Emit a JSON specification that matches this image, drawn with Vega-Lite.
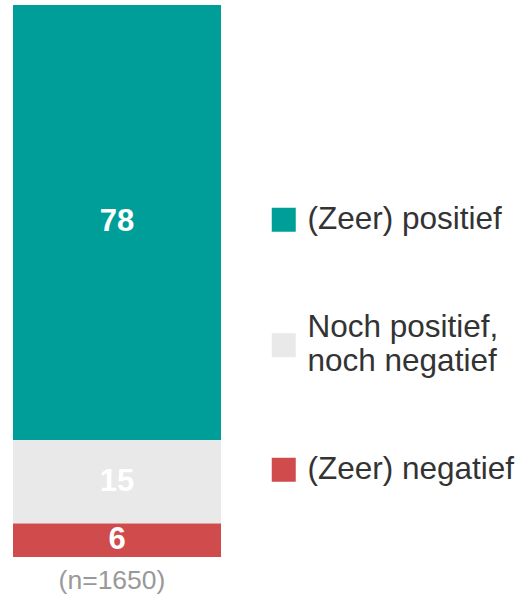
{
  "$schema": "https://vega.github.io/schema/vega-lite/v6.json",
  "width": 208,
  "height": 552,
  "autosize": {"type": "none"},
  "padding": {"left": 13, "top": 5, "right": 301, "bottom": 37},
  "background": "white",
  "config": {
    "view": {"stroke": null},
    "font": "Liberation Sans"
  },
  "data": {
    "values": [
      {"n": "(n=1650)", "categorie": "(Zeer) positief", "waarde": 78, "volgorde": 3},
      {"n": "(n=1650)", "categorie": "Noch positief, noch negatief", "waarde": 15, "volgorde": 2},
      {"n": "(n=1650)", "categorie": "(Zeer) negatief", "waarde": 6, "volgorde": 1}
    ]
  },
  "transform": [
    {"stack": "waarde", "groupby": ["n"], "sort": [{"field": "volgorde", "order": "ascending"}], "as": ["y0", "y1"]},
    {"calculate": "(datum.y0 + datum.y1) / 2", "as": "ymid"}
  ],
  "encoding": {
    "x": {
      "field": "n",
      "type": "nominal",
      "scale": {"paddingInner": 0, "paddingOuter": 0},
      "axis": {
        "title": null,
        "domain": false,
        "ticks": false,
        "labelAngle": 0,
        "labelFontSize": 26.5,
        "labelColor": "#999999",
        "labelPadding": 10,
        "labelOffset": -5,
        "labelFont": "Liberation Sans"
      }
    }
  },
  "layer": [
    {
      "mark": {"type": "bar"},
      "encoding": {
        "y": {"field": "y0", "type": "quantitative", "scale": {"domain": [0, 99], "nice": false, "zero": true}, "axis": null},
        "y2": {"field": "y1"},
        "color": {
          "field": "categorie",
          "type": "nominal",
          "scale": {
            "domain": ["(Zeer) positief", "Noch positief, noch negatief", "(Zeer) negatief"],
            "range": ["#009E99", "#E9E9E9", "#CF4B4C"]
          },
          "legend": {
            "title": null,
            "orient": "none",
            "legendX": 255,
            "legendY": 199,
            "padding": 0,
            "symbolType": "square",
            "symbolSize": 576,
            "symbolStrokeWidth": 0,
            "symbolOpacity": 1,
            "labelFontSize": 31.5,
            "labelFont": "Liberation Sans",
            "labelColor": "#333333",
            "labelOffset": 8,
            "labelLimit": 400,
            "labelLineHeight": 37,
            "labelBaseline": {"expr": "datum.label == 'Noch positief, noch negatief' ? 'line-bottom' : 'middle'"},
            "rowPadding": 75.5,
            "labelExpr": "datum.label == 'Noch positief, noch negatief' ? ['Noch positief,', 'noch negatief'] : datum.label"
          }
        }
      }
    },
    {
      "mark": {"type": "text", "color": "white", "fontWeight": "bold", "fontSize": 31, "font": "Liberation Sans", "baseline": "middle"},
      "encoding": {
        "y": {"field": "ymid", "type": "quantitative"},
        "text": {"field": "waarde", "type": "quantitative"}
      }
    }
  ]
}
